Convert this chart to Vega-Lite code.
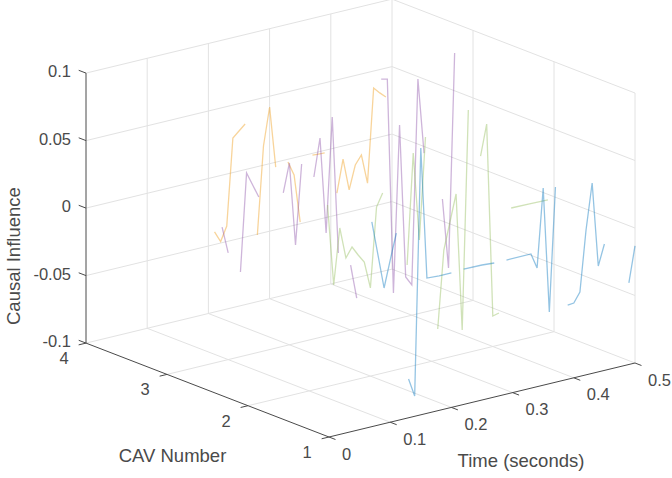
{"$schema":"https://vega.github.io/schema/vega-lite/v6.json","width":672,"height":478,"padding":0,"autosize":"none","background":"white","view":{"stroke":null},
"datasets":{
"series":[
{"cav":4,"run":"o1","time":0.21,"influence":-0.0407},{"cav":4,"run":"o1","time":0.22,"influence":-0.0489},{"cav":4,"run":"o1","time":0.23,"influence":-0.0385},{"cav":4,"run":"o1","time":0.24,"influence":0.0256},{"cav":4,"run":"o1","time":0.25,"influence":0.0297},{"cav":4,"run":"o1","time":0.26,"influence":0.0338},
{"cav":4,"run":"o2","time":0.28,"influence":-0.0506},{"cav":4,"run":"o2","time":0.29,"influence":0.0142},{"cav":4,"run":"o2","time":0.30,"influence":0.042},{"cav":4,"run":"o2","time":0.31,"influence":-0.0036},
{"cav":4,"run":"o3","time":0.33,"influence":-0.002},{"cav":4,"run":"o3","time":0.34,"influence":-0.0127},{"cav":4,"run":"o3","time":0.35,"influence":-0.0487},
{"cav":4,"run":"o4","time":0.37,"influence":-0.0013},{"cav":4,"run":"o4","time":0.38,"influence":-0.0016},{"cav":4,"run":"o4","time":0.39,"influence":-0.0019},
{"cav":4,"run":"o5","time":0.41,"influence":-0.0338},{"cav":4,"run":"o5","time":0.42,"influence":-0.0097},{"cav":4,"run":"o5","time":0.43,"influence":-0.0337},{"cav":4,"run":"o5","time":0.44,"influence":-0.0163},{"cav":4,"run":"o5","time":0.45,"influence":-0.01},{"cav":4,"run":"o5","time":0.46,"influence":-0.0319},{"cav":4,"run":"o5","time":0.47,"influence":0.0374},{"cav":4,"run":"o5","time":0.48,"influence":0.0327},{"cav":4,"run":"o5","time":0.49,"influence":0.0286},
{"cav":3,"run":"p1","time":0.09,"influence":-0.0007},{"cav":3,"run":"p1","time":0.10,"influence":-0.021},
{"cav":3,"run":"p2","time":0.12,"influence":-0.0373},{"cav":3,"run":"p2","time":0.13,"influence":0.035},{"cav":3,"run":"p2","time":0.14,"influence":0.025},{"cav":3,"run":"p2","time":0.15,"influence":0.015},
{"cav":3,"run":"p3","time":0.19,"influence":0.0136},{"cav":3,"run":"p3","time":0.20,"influence":0.0347},{"cav":3,"run":"p3","time":0.21,"influence":-0.0272},{"cav":3,"run":"p3","time":0.22,"influence":0.0317},
{"cav":3,"run":"p4","time":0.24,"influence":0.0199},{"cav":3,"run":"p4","time":0.25,"influence":0.0477},{"cav":3,"run":"p4","time":0.26,"influence":-0.0238},{"cav":3,"run":"p4","time":0.27,"influence":0.061},{"cav":3,"run":"p4","time":0.28,"influence":-0.0407},
{"cav":3,"run":"p5","time":0.30,"influence":-0.0519},{"cav":3,"run":"p5","time":0.31,"influence":-0.0774},
{"cav":3,"run":"p6","time":0.35,"influence":0.0804},{"cav":3,"run":"p6","time":0.36,"influence":0.0793},{"cav":3,"run":"p6","time":0.37,"influence":-0.0803},{"cav":3,"run":"p6","time":0.38,"influence":0.0431},{"cav":3,"run":"p6","time":0.39,"influence":-0.0706},{"cav":3,"run":"p6","time":0.40,"influence":-0.0776},{"cav":3,"run":"p6","time":0.41,"influence":0.0739},{"cav":3,"run":"p6","time":0.42,"influence":0.0179},
{"cav":3,"run":"p7","time":0.45,"influence":-0.0194},{"cav":3,"run":"p7","time":0.46,"influence":-0.0716},{"cav":3,"run":"p7","time":0.47,"influence":0.0865},
{"cav":2,"run":"g1","time":0.13,"influence":0.0344},{"cav":2,"run":"g1","time":0.14,"influence":-0.0259},{"cav":2,"run":"g1","time":0.15,"influence":0.0152},{"cav":2,"run":"g1","time":0.16,"influence":-0.0081},{"cav":2,"run":"g1","time":0.17,"influence":-0.0011},{"cav":2,"run":"g1","time":0.18,"influence":-0.0081},{"cav":2,"run":"g1","time":0.19,"influence":-0.0144},{"cav":2,"run":"g1","time":0.20,"influence":-0.0347},{"cav":2,"run":"g1","time":0.21,"influence":0.0241},{"cav":2,"run":"g1","time":0.22,"influence":0.0334},
{"cav":2,"run":"g2","time":0.26,"influence":-0.0243},{"cav":2,"run":"g2","time":0.27,"influence":0.0576},{"cav":2,"run":"g2","time":0.28,"influence":-0.0079},{"cav":2,"run":"g2","time":0.29,"influence":0.0673},
{"cav":2,"run":"g3","time":0.31,"influence":-0.0772},{"cav":2,"run":"g3","time":0.32,"influence":-0.0198},{"cav":2,"run":"g3","time":0.33,"influence":-0.0001},{"cav":2,"run":"g3","time":0.34,"influence":0.0196},{"cav":2,"run":"g3","time":0.35,"influence":-0.0823},{"cav":2,"run":"g3","time":0.36,"influence":0.0796},
{"cav":2,"run":"g4","time":0.38,"influence":0.0433},{"cav":2,"run":"g4","time":0.39,"influence":0.0659},{"cav":2,"run":"g4","time":0.40,"influence":-0.0774},{"cav":2,"run":"g4","time":0.41,"influence":-0.0763},
{"cav":2,"run":"g5","time":0.43,"influence":-0.0007},{"cav":2,"run":"g5","time":0.46,"influence":-0.001},{"cav":2,"run":"g5","time":0.49,"influence":-0.0013},
{"cav":1,"run":"b1","time":0.07,"influence":0.0516},{"cav":1,"run":"b1","time":0.08,"influence":0.0261},{"cav":1,"run":"b1","time":0.09,"influence":0.0005},{"cav":1,"run":"b1","time":0.10,"influence":0.0201},{"cav":1,"run":"b1","time":0.11,"influence":0.039},
{"cav":1,"run":"b2","time":0.13,"influence":-0.0713},{"cav":1,"run":"b2","time":0.14,"influence":-0.085},{"cav":1,"run":"b2","time":0.15,"influence":0.0976},{"cav":1,"run":"b2","time":0.16,"influence":0.0002},{"cav":1,"run":"b2","time":0.18,"influence":-0.0004},{"cav":1,"run":"b2","time":0.20,"influence":-0.0004},
{"cav":1,"run":"b3","time":0.22,"influence":0.0003},{"cav":1,"run":"b3","time":0.25,"influence":0.0},{"cav":1,"run":"b3","time":0.27,"influence":-0.0007},
{"cav":1,"run":"b4","time":0.29,"influence":-0.0007},{"cav":1,"run":"b4","time":0.33,"influence":-0.0006},{"cav":1,"run":"b4","time":0.34,"influence":-0.0121},{"cav":1,"run":"b4","time":0.35,"influence":0.0461},{"cav":1,"run":"b4","time":0.36,"influence":-0.0469},{"cav":1,"run":"b4","time":0.37,"influence":0.0446},
{"cav":1,"run":"b5","time":0.39,"influence":-0.045},{"cav":1,"run":"b5","time":0.40,"influence":-0.0446},{"cav":1,"run":"b5","time":0.41,"influence":-0.0376},{"cav":1,"run":"b5","time":0.42,"influence":0.0073},{"cav":1,"run":"b5","time":0.43,"influence":0.041},{"cav":1,"run":"b5","time":0.44,"influence":-0.0216},{"cav":1,"run":"b5","time":0.45,"influence":-0.0064},
{"cav":1,"run":"b6","time":0.49,"influence":-0.0396},{"cav":1,"run":"b6","time":0.50,"influence":-0.0133}
],
"grid":[
{"id":"ft1","time":0.1,"cav":1,"influence":-0.1},{"id":"ft1","time":0.1,"cav":4,"influence":-0.1},
{"id":"ft2","time":0.2,"cav":1,"influence":-0.1},{"id":"ft2","time":0.2,"cav":4,"influence":-0.1},
{"id":"ft3","time":0.3,"cav":1,"influence":-0.1},{"id":"ft3","time":0.3,"cav":4,"influence":-0.1},
{"id":"ft4","time":0.4,"cav":1,"influence":-0.1},{"id":"ft4","time":0.4,"cav":4,"influence":-0.1},
{"id":"ft5","time":0.5,"cav":1,"influence":-0.1},{"id":"ft5","time":0.5,"cav":4,"influence":-0.1},
{"id":"fc2","time":0,"cav":2,"influence":-0.1},{"id":"fc2","time":0.5,"cav":2,"influence":-0.1},
{"id":"fc3","time":0,"cav":3,"influence":-0.1},{"id":"fc3","time":0.5,"cav":3,"influence":-0.1},
{"id":"fc4","time":0,"cav":4,"influence":-0.1},{"id":"fc4","time":0.5,"cav":4,"influence":-0.1},
{"id":"wt1","time":0.1,"cav":4,"influence":-0.1},{"id":"wt1","time":0.1,"cav":4,"influence":0.1},
{"id":"wt2","time":0.2,"cav":4,"influence":-0.1},{"id":"wt2","time":0.2,"cav":4,"influence":0.1},
{"id":"wt3","time":0.3,"cav":4,"influence":-0.1},{"id":"wt3","time":0.3,"cav":4,"influence":0.1},
{"id":"wt4","time":0.4,"cav":4,"influence":-0.1},{"id":"wt4","time":0.4,"cav":4,"influence":0.1},
{"id":"wt5","time":0.5,"cav":4,"influence":-0.1},{"id":"wt5","time":0.5,"cav":4,"influence":0.1},
{"id":"wz1","time":0,"cav":4,"influence":-0.05},{"id":"wz1","time":0.5,"cav":4,"influence":-0.05},
{"id":"wz2","time":0,"cav":4,"influence":0},{"id":"wz2","time":0.5,"cav":4,"influence":0},
{"id":"wz3","time":0,"cav":4,"influence":0.05},{"id":"wz3","time":0.5,"cav":4,"influence":0.05},
{"id":"wz4","time":0,"cav":4,"influence":0.1},{"id":"wz4","time":0.5,"cav":4,"influence":0.1},
{"id":"rc1","time":0.5,"cav":1,"influence":-0.1},{"id":"rc1","time":0.5,"cav":1,"influence":0.1},
{"id":"rc2","time":0.5,"cav":2,"influence":-0.1},{"id":"rc2","time":0.5,"cav":2,"influence":0.1},
{"id":"rc3","time":0.5,"cav":3,"influence":-0.1},{"id":"rc3","time":0.5,"cav":3,"influence":0.1},
{"id":"rz1","time":0.5,"cav":1,"influence":-0.05},{"id":"rz1","time":0.5,"cav":4,"influence":-0.05},
{"id":"rz2","time":0.5,"cav":1,"influence":0},{"id":"rz2","time":0.5,"cav":4,"influence":0},
{"id":"rz3","time":0.5,"cav":1,"influence":0.05},{"id":"rz3","time":0.5,"cav":4,"influence":0.05},
{"id":"rz4","time":0.5,"cav":1,"influence":0.1},{"id":"rz4","time":0.5,"cav":4,"influence":0.1}
],
"frame":[
{"id":"az","time":0,"cav":4,"influence":-0.1},{"id":"az","time":0,"cav":4,"influence":0.1},
{"id":"ac","time":0,"cav":1,"influence":-0.1},{"id":"ac","time":0,"cav":4,"influence":-0.1},
{"id":"at","time":0,"cav":1,"influence":-0.1},{"id":"at","time":0.5,"cav":1,"influence":-0.1},
{"id":"tz1","time":0,"cav":4,"influence":-0.1},{"id":"tz1","time":0,"cav":4.09,"influence":-0.1},
{"id":"tz2","time":0,"cav":4,"influence":-0.05},{"id":"tz2","time":0,"cav":4.09,"influence":-0.05},
{"id":"tz3","time":0,"cav":4,"influence":0},{"id":"tz3","time":0,"cav":4.09,"influence":0},
{"id":"tz4","time":0,"cav":4,"influence":0.05},{"id":"tz4","time":0,"cav":4.09,"influence":0.05},
{"id":"tz5","time":0,"cav":4,"influence":0.1},{"id":"tz5","time":0,"cav":4.09,"influence":0.1},
{"id":"tc1","time":0,"cav":1,"influence":-0.1},{"id":"tc1","time":-0.012,"cav":1,"influence":-0.1},
{"id":"tc2","time":0,"cav":2,"influence":-0.1},{"id":"tc2","time":-0.012,"cav":2,"influence":-0.1},
{"id":"tc3","time":0,"cav":3,"influence":-0.1},{"id":"tc3","time":-0.012,"cav":3,"influence":-0.1},
{"id":"tc4","time":0,"cav":4,"influence":-0.1},{"id":"tc4","time":-0.012,"cav":4,"influence":-0.1},
{"id":"tt0","time":0,"cav":1,"influence":-0.1},{"id":"tt0","time":0,"cav":0.92,"influence":-0.1},
{"id":"tt1","time":0.1,"cav":1,"influence":-0.1},{"id":"tt1","time":0.1,"cav":0.92,"influence":-0.1},
{"id":"tt2","time":0.2,"cav":1,"influence":-0.1},{"id":"tt2","time":0.2,"cav":0.92,"influence":-0.1},
{"id":"tt3","time":0.3,"cav":1,"influence":-0.1},{"id":"tt3","time":0.3,"cav":0.92,"influence":-0.1},
{"id":"tt4","time":0.4,"cav":1,"influence":-0.1},{"id":"tt4","time":0.4,"cav":0.92,"influence":-0.1},
{"id":"tt5","time":0.5,"cav":1,"influence":-0.1},{"id":"tt5","time":0.5,"cav":0.92,"influence":-0.1}
],
"labels":[
{"axis":"z","label":"0.1","time":0,"cav":4,"influence":0.1},{"axis":"z","label":"0.05","time":0,"cav":4,"influence":0.05},{"axis":"z","label":"0","time":0,"cav":4,"influence":0},{"axis":"z","label":"-0.05","time":0,"cav":4,"influence":-0.05},{"axis":"z","label":"-0.1","time":0,"cav":4,"influence":-0.1},
{"axis":"c","label":"1","time":0,"cav":1,"influence":-0.1},{"axis":"c","label":"2","time":0,"cav":2,"influence":-0.1},{"axis":"c","label":"3","time":0,"cav":3,"influence":-0.1},{"axis":"c","label":"4","time":0,"cav":4,"influence":-0.1},
{"axis":"t","label":"0","time":0,"cav":1,"influence":-0.1},{"axis":"t","label":"0.1","time":0.1,"cav":1,"influence":-0.1},{"axis":"t","label":"0.2","time":0.2,"cav":1,"influence":-0.1},{"axis":"t","label":"0.3","time":0.3,"cav":1,"influence":-0.1},{"axis":"t","label":"0.4","time":0.4,"cav":1,"influence":-0.1},{"axis":"t","label":"0.5","time":0.5,"cav":1,"influence":-0.1},
{"axis":"tc","label":"CAV Number","time":0,"cav":2.5,"influence":-0.1},
{"axis":"tt","label":"Time (seconds)","time":0.25,"cav":1,"influence":-0.1},
{"axis":"tz","label":"Causal Influence","time":0,"cav":4,"influence":0}
]},
"transform":[],
"encoding":{"x":{"field":"px","type":"quantitative","scale":{"domain":[0,672],"range":[0,672],"nice":false,"zero":false},"axis":null},"y":{"field":"py","type":"quantitative","scale":{"domain":[478,0],"range":[478,0],"nice":false,"zero":false},"axis":null}},
"layer":[
{"data":{"name":"grid"},"transform":[{"calculate":"329+612*datum.time-81*(datum.cav-1)","as":"px"},{"calculate":"437-148*datum.time-31.3*(datum.cav-1)-1350*(datum.influence+0.1)","as":"py"}],
"mark":{"type":"line","stroke":"#e2e2e2","strokeWidth":1},
"encoding":{"detail":{"field":"id"}}},
{"data":{"name":"frame"},"transform":[{"calculate":"329+612*datum.time-81*(datum.cav-1)","as":"px"},{"calculate":"437-148*datum.time-31.3*(datum.cav-1)-1350*(datum.influence+0.1)","as":"py"}],
"mark":{"type":"line","stroke":"#4a4a4a","strokeWidth":1},
"encoding":{"detail":{"field":"id"}}},
{"data":{"name":"series"},"transform":[{"calculate":"329+612*datum.time-81*(datum.cav-1)","as":"px"},{"calculate":"437-148*datum.time-31.3*(datum.cav-1)-1350*(datum.influence+0.1)","as":"py"}],
"mark":{"type":"line","strokeWidth":1.3,"opacity":0.42},
"encoding":{"detail":{"field":"run"},"order":{"field":"time"},"color":{"field":"cav","type":"nominal","legend":null,"scale":{"domain":[1,2,3,4],"range":["#0072BD","#8FBA56","#8A4FA8","#EE9911"]}}}},
{"data":{"name":"labels"},"transform":[{"filter":"datum.axis=='z'"},{"calculate":"329+612*datum.time-81*(datum.cav-1)","as":"px"},{"calculate":"437-148*datum.time-31.3*(datum.cav-1)-1350*(datum.influence+0.1)","as":"py"}],
"mark":{"type":"text","align":"right","baseline":"middle","dx":-15,"dy":-1,"font":"Liberation Sans","fontSize":16.5,"fill":"#4a4a4a"},
"encoding":{"text":{"field":"label"}}},
{"data":{"name":"labels"},"transform":[{"filter":"datum.axis=='c'"},{"calculate":"329+612*datum.time-81*(datum.cav-1)","as":"px"},{"calculate":"437-148*datum.time-31.3*(datum.cav-1)-1350*(datum.influence+0.1)","as":"py"}],
"mark":{"type":"text","align":"center","baseline":"middle","dx":-22,"dy":16,"font":"Liberation Sans","fontSize":16.5,"fill":"#4a4a4a"},
"encoding":{"text":{"field":"label"}}},
{"data":{"name":"labels"},"transform":[{"filter":"datum.axis=='t'"},{"calculate":"329+612*datum.time-81*(datum.cav-1)","as":"px"},{"calculate":"437-148*datum.time-31.3*(datum.cav-1)-1350*(datum.influence+0.1)","as":"py"}],
"mark":{"type":"text","align":"left","baseline":"middle","dx":13,"dy":17.5,"font":"Liberation Sans","fontSize":16.5,"fill":"#4a4a4a"},
"encoding":{"text":{"field":"label"}}},
{"data":{"name":"labels"},"transform":[{"filter":"datum.axis=='tc'"},{"calculate":"329+612*datum.time-81*(datum.cav-1)","as":"px"},{"calculate":"437-148*datum.time-31.3*(datum.cav-1)-1350*(datum.influence+0.1)","as":"py"}],
"mark":{"type":"text","align":"center","baseline":"middle","dx":-35,"dy":66,"font":"Liberation Sans","fontSize":18.5,"fill":"#4a4a4a"},
"encoding":{"text":{"field":"label"}}},
{"data":{"name":"labels"},"transform":[{"filter":"datum.axis=='tt'"},{"calculate":"329+612*datum.time-81*(datum.cav-1)","as":"px"},{"calculate":"437-148*datum.time-31.3*(datum.cav-1)-1350*(datum.influence+0.1)","as":"py"}],
"mark":{"type":"text","align":"center","baseline":"middle","dx":39,"dy":61,"font":"Liberation Sans","fontSize":18.5,"fill":"#4a4a4a"},
"encoding":{"text":{"field":"label"}}},
{"data":{"name":"labels"},"transform":[{"filter":"datum.axis=='tz'"},{"calculate":"329+612*datum.time-81*(datum.cav-1)","as":"px"},{"calculate":"437-148*datum.time-31.3*(datum.cav-1)-1350*(datum.influence+0.1)","as":"py"}],
"mark":{"type":"text","align":"center","baseline":"middle","angle":270,"dx":-48,"dy":-72,"font":"Liberation Sans","fontSize":18.5,"fill":"#4a4a4a"},
"encoding":{"text":{"field":"label"}}}
]}
